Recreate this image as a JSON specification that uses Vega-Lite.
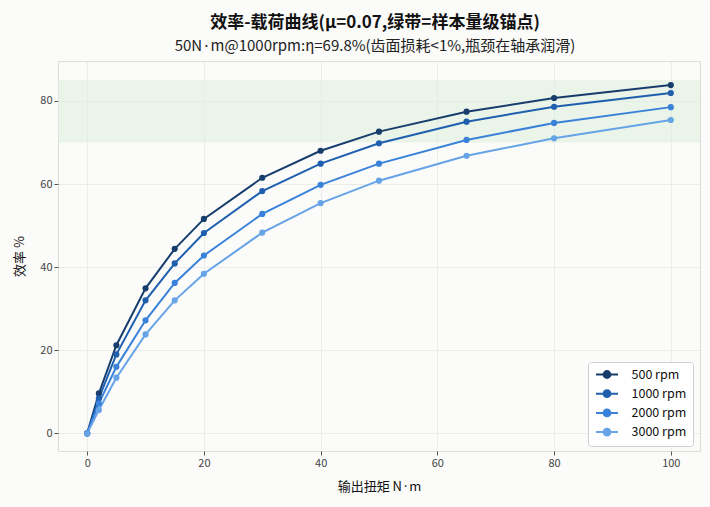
{
  "$schema": "https://vega.github.io/schema/vega-lite/v6.json",
  "width": 642,
  "height": 390,
  "autosize": {"type": "none"},
  "padding": {"left": 58, "top": 61, "right": 10, "bottom": 56},
  "background": "#fbfbf9",
  "title": {
    "text": "效率-载荷曲线(μ=0.07,绿带=样本量级锚点)",
    "subtitle": "50N·m@1000rpm:η=69.8%(齿面损耗<1%,瓶颈在轴承润滑)",
    "anchor": "middle",
    "frame": "group",
    "dx": -4,
    "font": "Noto Sans CJK JP",
    "fontSize": 17,
    "fontWeight": "bold",
    "color": "#111111",
    "subtitleFont": "Noto Sans CJK JP",
    "subtitleFontSize": 15,
    "subtitleColor": "#222222",
    "subtitlePadding": 7,
    "offset": 6
  },
  "config": {
    "font": "Noto Sans CJK JP",
    "view": {"stroke": "#dcdcd8", "strokeWidth": 1, "fill": "#fbfbf9"},
    "axis": {
      "domain": false,
      "gridColor": "#e9e9e6",
      "gridWidth": 0.8,
      "tickColor": "#555555",
      "tickSize": 4,
      "labelFont": "Noto Sans CJK JP",
      "labelFontSize": 11,
      "labelColor": "#444444",
      "titleFont": "Noto Sans CJK JP",
      "titleFontSize": 13,
      "titleFontWeight": "normal",
      "titleColor": "#111111"
    }
  },
  "datasets": {
    "band": [{"lo": 70, "hi": 85}],
    "curves": [
      {"torque": 0, "rpm": "500 rpm", "eff": 0},
      {"torque": 2, "rpm": "500 rpm", "eff": 9.6},
      {"torque": 5, "rpm": "500 rpm", "eff": 21.2},
      {"torque": 10, "rpm": "500 rpm", "eff": 34.9},
      {"torque": 15, "rpm": "500 rpm", "eff": 44.4},
      {"torque": 20, "rpm": "500 rpm", "eff": 51.6},
      {"torque": 30, "rpm": "500 rpm", "eff": 61.5},
      {"torque": 40, "rpm": "500 rpm", "eff": 68.0},
      {"torque": 50, "rpm": "500 rpm", "eff": 72.6},
      {"torque": 65, "rpm": "500 rpm", "eff": 77.4},
      {"torque": 80, "rpm": "500 rpm", "eff": 80.7},
      {"torque": 100, "rpm": "500 rpm", "eff": 83.8},
      {"torque": 0, "rpm": "1000 rpm", "eff": 0},
      {"torque": 2, "rpm": "1000 rpm", "eff": 8.4},
      {"torque": 5, "rpm": "1000 rpm", "eff": 19.0},
      {"torque": 10, "rpm": "1000 rpm", "eff": 32.0},
      {"torque": 15, "rpm": "1000 rpm", "eff": 40.9},
      {"torque": 20, "rpm": "1000 rpm", "eff": 48.2},
      {"torque": 30, "rpm": "1000 rpm", "eff": 58.3},
      {"torque": 40, "rpm": "1000 rpm", "eff": 64.9},
      {"torque": 50, "rpm": "1000 rpm", "eff": 69.8},
      {"torque": 65, "rpm": "1000 rpm", "eff": 75.0},
      {"torque": 80, "rpm": "1000 rpm", "eff": 78.6},
      {"torque": 100, "rpm": "1000 rpm", "eff": 81.9},
      {"torque": 0, "rpm": "2000 rpm", "eff": 0},
      {"torque": 2, "rpm": "2000 rpm", "eff": 7.2},
      {"torque": 5, "rpm": "2000 rpm", "eff": 16.0},
      {"torque": 10, "rpm": "2000 rpm", "eff": 27.2},
      {"torque": 15, "rpm": "2000 rpm", "eff": 36.2},
      {"torque": 20, "rpm": "2000 rpm", "eff": 42.8},
      {"torque": 30, "rpm": "2000 rpm", "eff": 52.8},
      {"torque": 40, "rpm": "2000 rpm", "eff": 59.8},
      {"torque": 50, "rpm": "2000 rpm", "eff": 64.9},
      {"torque": 65, "rpm": "2000 rpm", "eff": 70.6},
      {"torque": 80, "rpm": "2000 rpm", "eff": 74.7},
      {"torque": 100, "rpm": "2000 rpm", "eff": 78.5},
      {"torque": 0, "rpm": "3000 rpm", "eff": 0},
      {"torque": 2, "rpm": "3000 rpm", "eff": 5.6},
      {"torque": 5, "rpm": "3000 rpm", "eff": 13.4},
      {"torque": 10, "rpm": "3000 rpm", "eff": 23.8},
      {"torque": 15, "rpm": "3000 rpm", "eff": 32.0},
      {"torque": 20, "rpm": "3000 rpm", "eff": 38.4},
      {"torque": 30, "rpm": "3000 rpm", "eff": 48.3},
      {"torque": 40, "rpm": "3000 rpm", "eff": 55.4},
      {"torque": 50, "rpm": "3000 rpm", "eff": 60.8},
      {"torque": 65, "rpm": "3000 rpm", "eff": 66.8},
      {"torque": 80, "rpm": "3000 rpm", "eff": 71.0},
      {"torque": 100, "rpm": "3000 rpm", "eff": 75.4}
    ]
  },
  "layer": [
    {
      "data": {"name": "band"},
      "mark": {"type": "rect", "color": "#dcefdc", "opacity": 0.55},
      "encoding": {
        "y": {"field": "lo", "type": "quantitative", "scale": {"domain": [-4.25, 89.6], "nice": false, "zero": false}},
        "y2": {"field": "hi"}
      }
    },
    {
      "data": {"name": "curves"},
      "mark": {"type": "line", "strokeWidth": 2},
      "encoding": {
        "x": {
          "field": "torque", "type": "quantitative",
          "title": "输出扭矩 N·m",
          "scale": {"domain": [-5, 105], "nice": false},
          "axis": {"values": [0, 20, 40, 60, 80, 100], "titlePadding": 12}
        },
        "y": {
          "field": "eff", "type": "quantitative",
          "title": "效率 %",
          "axis": {"values": [0, 20, 40, 60, 80], "titlePadding": 13}
        },
        "color": {
          "field": "rpm", "type": "nominal",
          "scale": {
            "domain": ["500 rpm", "1000 rpm", "2000 rpm", "3000 rpm"],
            "range": ["#163d6c", "#1f5fae", "#3a82d9", "#66a3e7"]
          },
          "legend": {
            "title": null,
            "orient": "none",
            "legendX": 530,
            "legendY": 301,
            "padding": 6,
            "fillColor": "#ffffff",
            "strokeColor": "#d0d0d0",
            "cornerRadius": 3,
            "labelFontSize": 12.5,
            "labelColor": "#111111",
            "labelOffset": 18,
            "rowPadding": 4.2,
            "symbolOffset": 6.5,
            "symbolType": "M-2,0H2M-0.62,0A0.62,0.62,0,1,1,0.62,0A0.62,0.62,0,1,1,-0.62,0Z",
            "symbolSize": 121,
            "symbolStrokeWidth": 2
          }
        },
        "order": {"field": "torque"}
      }
    },
    {
      "data": {"name": "curves"},
      "mark": {"type": "point", "filled": true, "size": 38, "opacity": 1},
      "encoding": {
        "x": {"field": "torque", "type": "quantitative"},
        "y": {"field": "eff", "type": "quantitative"},
        "color": {"field": "rpm", "type": "nominal"}
      }
    }
  ]
}
